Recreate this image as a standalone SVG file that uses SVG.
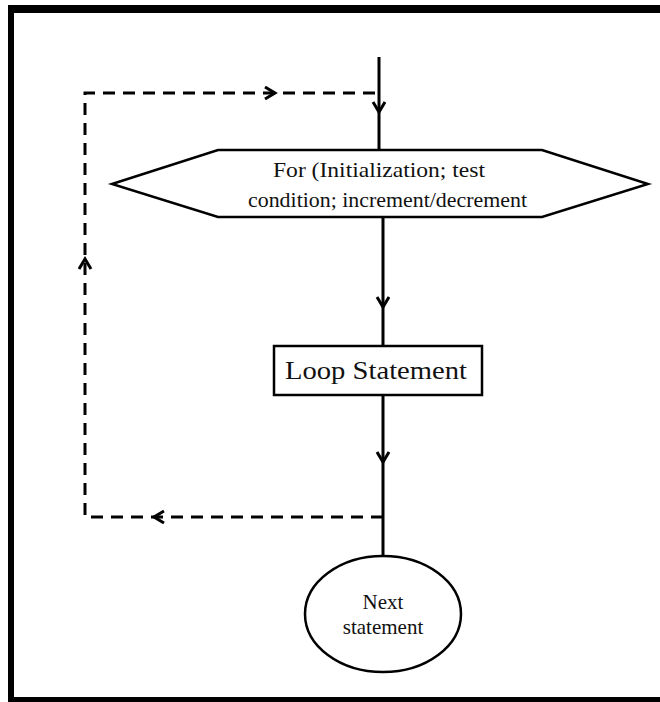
<svg xmlns="http://www.w3.org/2000/svg" width="660" height="702" viewBox="0 0 660 702">
  <style>
    .shape { fill: #ffffff; stroke: #000000; stroke-width: 2.5; }
    .flow { fill: none; stroke: #000000; stroke-width: 3; }
    .dash { fill: none; stroke: #000000; stroke-width: 3; stroke-dasharray: 12 8; }
    .label { font-family: "Liberation Serif", "Times New Roman", serif; fill: #111111; }
  </style>
  <defs>
    <marker id="chevron" markerUnits="userSpaceOnUse" markerWidth="14" markerHeight="16" refX="11" refY="7" orient="auto" viewBox="0 0 14 16">
      <path d="M1,1 L11,7 L1,13" fill="none" stroke="#000000" stroke-width="3"/>
    </marker>
  </defs>

  <rect x="0" y="0" width="660" height="702" fill="#ffffff"/>

  <!-- heavy page frame -->
  <g id="frame" fill="#000000">
    <rect x="8" y="5" width="652" height="8"/>
    <rect x="8" y="5" width="6" height="697"/>
    <rect x="8" y="697" width="652" height="5"/>
  </g>

  <!-- connectors -->
  <g id="connectors">
    <line class="flow" x1="379" y1="57" x2="379" y2="112" marker-end="url(#chevron)"/>
    <line class="flow" x1="379" y1="110" x2="379" y2="150"/>
    <line class="flow" x1="383" y1="217" x2="383" y2="307" marker-end="url(#chevron)"/>
    <line class="flow" x1="383" y1="305" x2="383" y2="346"/>
    <line class="flow" x1="383" y1="395" x2="383" y2="462" marker-end="url(#chevron)"/>
    <line class="flow" x1="383" y1="460" x2="383" y2="556"/>
    <!-- dashed return loop -->
    <path class="dash" d="M383,517 L85,517 L85,93 L379,93"/>
    <line x1="170" y1="517" x2="154" y2="517" stroke="#000" stroke-width="0" marker-end="url(#chevron)"/>
    <line x1="85" y1="275" x2="85" y2="259" stroke="#000" stroke-width="0" marker-end="url(#chevron)"/>
    <line x1="260" y1="93" x2="275" y2="93" stroke="#000" stroke-width="0" marker-end="url(#chevron)"/>
  </g>

  <g id="for-condition">
    <polygon class="shape" points="112,184 218,150 542,150 648,184 542,217 218,217"/>
    <text class="label" x="273" y="177" font-size="22" textLength="212" lengthAdjust="spacingAndGlyphs">For (Initialization; test</text>
    <text class="label" x="248" y="207" font-size="22" textLength="279" lengthAdjust="spacingAndGlyphs">condition; increment/decrement</text>
  </g>

  <g id="loop-statement">
    <rect class="shape" x="274" y="346" width="208" height="49"/>
    <text class="label" x="285" y="379" font-size="26" textLength="182" lengthAdjust="spacingAndGlyphs">Loop Statement</text>
  </g>

  <g id="next-statement">
    <ellipse class="shape" cx="383" cy="614" rx="78" ry="58"/>
    <text class="label" x="383" y="609" font-size="21" text-anchor="middle">Next</text>
    <text class="label" x="383" y="634" font-size="21" text-anchor="middle">statement</text>
  </g>
</svg>
